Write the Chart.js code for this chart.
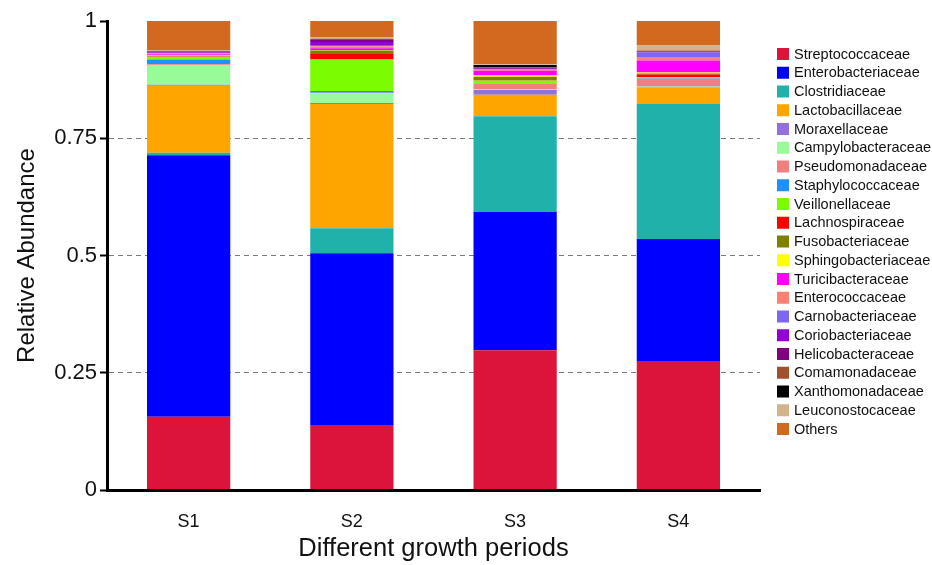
<!DOCTYPE html>
<html>
<head>
<meta charset="utf-8">
<script src="https://cdn.jsdelivr.net/npm/chart.js@4/dist/chart.umd.min.js"></script>
<style>
  html, body { margin: 0; padding: 0; background: #fff; }
  #wrap { width: 932px; height: 565px; position: relative; }
</style>
</head>
<body>
<div id="wrap"><canvas id="c" width="932" height="565"></canvas></div>
<script>
// Growth periods on the x axis
const periods = ['S1', 'S2', 'S3', 'S4'];

// Bacterial families, stacked bottom to top in this order
const families = [
  'Streptococcaceae', 'Enterobacteriaceae', 'Clostridiaceae', 'Lactobacillaceae',
  'Moraxellaceae', 'Campylobacteraceae', 'Pseudomonadaceae', 'Staphylococcaceae',
  'Veillonellaceae', 'Lachnospiraceae', 'Fusobacteriaceae', 'Sphingobacteriaceae',
  'Turicibacteraceae', 'Enterococcaceae', 'Carnobacteriaceae', 'Coriobacteriaceae',
  'Helicobacteraceae', 'Comamonadaceae', 'Xanthomonadaceae', 'Leuconostocaceae', 'Others'
];

const familyColors = [
  '#DC143C', '#0000FF', '#20B2AA', '#FFA500',
  '#9370DB', '#98FB98', '#F08080', '#1E90FF',
  '#7CFC00', '#FF0000', '#808000', '#FFFF00',
  '#FF00FF', '#FA8072', '#7B68EE', '#9400D3',
  '#800080', '#A0522D', '#000000', '#D2B48C', '#D2691E'
];

// Relative abundance per family (S1, S2, S3, S4)
const streptococcaceae    = [0.156, 0.137, 0.298, 0.275];
const enterobacteriaceae  = [0.558, 0.368, 0.295, 0.260];
const clostridiaceae      = [0.005, 0.053, 0.204, 0.288];
const lactobacillaceae    = [0.143, 0.265, 0.046, 0.036];
const moraxellaceae       = [0.002, 0.002, 0.010, 0.001];
const campylobacteraceae  = [0.042, 0.021, 0.001, 0.001];
const pseudomonadaceae    = [0.002, 0.001, 0.012, 0.016];
const staphylococcaceae   = [0.010, 0.004, 0.001, 0.001];
const veillonellaceae     = [0.006, 0.067, 0.006, 0.002];
const lachnospiraceae     = [0.001, 0.013, 0.001, 0.006];
const fusobacteriaceae    = [0.001, 0.006, 0.007, 0.002];
const sphingobacteriaceae = [0.001, 0.001, 0.003, 0.002];
const turicibacteraceae   = [0.002, 0.004, 0.010, 0.026];
const enterococcaceae     = [0.002, 0.004, 0.002, 0.007];
const carnobacteriaceae   = [0.001, 0.001, 0.001, 0.010];
const coriobacteriaceae   = [0.001, 0.008, 0.001, 0.002];
const helicobacteraceae   = [0.002, 0.006, 0.003, 0.001];
const comamonadaceae      = [0.001, 0.001, 0.001, 0.001];
const xanthomonadaceae    = [0.000, 0.000, 0.004, 0.000];
const leuconostocaceae    = [0.002, 0.004, 0.002, 0.011];
const others              = [0.062, 0.034, 0.092, 0.052];

const familyValues = [
  streptococcaceae, enterobacteriaceae, clostridiaceae, lactobacillaceae,
  moraxellaceae, campylobacteraceae, pseudomonadaceae, staphylococcaceae,
  veillonellaceae, lachnospiraceae, fusobacteriaceae, sphingobacteriaceae,
  turicibacteraceae, enterococcaceae, carnobacteriaceae, coriobacteriaceae,
  helicobacteraceae, comamonadaceae, xanthomonadaceae, leuconostocaceae, others
];

// Y axis tick labels
const yTickLabels = { 0: '0', 0.25: '0.25', 0.5: '0.5', 0.75: '0.75', 1: '1' };

const FONT = '"Liberation Sans", Arial, Helvetica, sans-serif';

const datasets = families.map((name, i) => ({
  label: name,
  data: familyValues[i],
  backgroundColor: familyColors[i],
  borderWidth: 0,
  barPercentage: 0.51,
  categoryPercentage: 1.0
}));

// Vertical legend to the right of the plot
const sideLegend = {
  id: 'sideLegend',
  afterDraw(chart) {
    const ctx = chart.ctx;
    const x0 = chart.chartArea.right + 17;
    const y0 = 54;
    const step = 18.75;
    const box = 12;
    ctx.save();
    ctx.font = '14.5px ' + FONT;
    ctx.textBaseline = 'middle';
    ctx.textAlign = 'left';
    chart.data.datasets.forEach((ds, i) => {
      const cy = y0 + i * step;
      ctx.fillStyle = ds.backgroundColor;
      ctx.fillRect(x0, cy - box / 2, box, box);
      ctx.fillStyle = '#111';
      ctx.fillText(ds.label, x0 + box + 5, cy + 0.5);
    });
    ctx.restore();
  }
};

new Chart(document.getElementById('c'), {
  type: 'bar',
  data: { labels: periods, datasets },
  plugins: [sideLegend],
  options: {
    responsive: false,
    animation: false,
    layout: { padding: { left: 0, right: 172, top: 21, bottom: 0 } },
    plugins: {
      legend: { display: false },
      tooltip: { enabled: false }
    },
    scales: {
      x: {
        stacked: true,
        offset: true,
        grid: { display: true, drawOnChartArea: false, drawTicks: false },
        border: { display: true, color: '#000', width: 3, z: 1 },
        ticks: { color: '#111', font: { family: FONT, size: 18 }, padding: 21 },
        title: {
          display: true,
          text: 'Different growth periods',
          color: '#111',
          font: { family: FONT, size: 25.5 },
          padding: { top: 0, bottom: 1 }
        },
        afterFit(scale) { scale.height = 75; }
      },
      y: {
        stacked: true,
        min: 0,
        max: 1,
        ticks: {
          stepSize: 0.25,
          color: '#111',
          font: { family: FONT, size: 22 },
          padding: 3,
          callback: (v) => yTickLabels[v] !== undefined ? yTickLabels[v] : ''
        },
        grid: {
          drawOnChartArea: true,
          color: (c) => (c.tick && (c.tick.value === 0 || c.tick.value === 1)) ? 'rgba(0,0,0,0)' : '#7a7a7a',
          lineWidth: 1,
          tickColor: '#000',
          tickWidth: 2,
          tickLength: 7
        },
        border: { display: true, color: '#000', width: 3, dash: [5, 4], z: 1 },
        title: {
          display: true,
          text: 'Relative Abundance',
          color: '#111',
          font: { family: FONT, size: 24 },
          padding: { top: 13, bottom: 0 }
        },
        afterFit(scale) { scale.width = 107; }
      }
    }
  }
});
</script>
</body>
</html>
